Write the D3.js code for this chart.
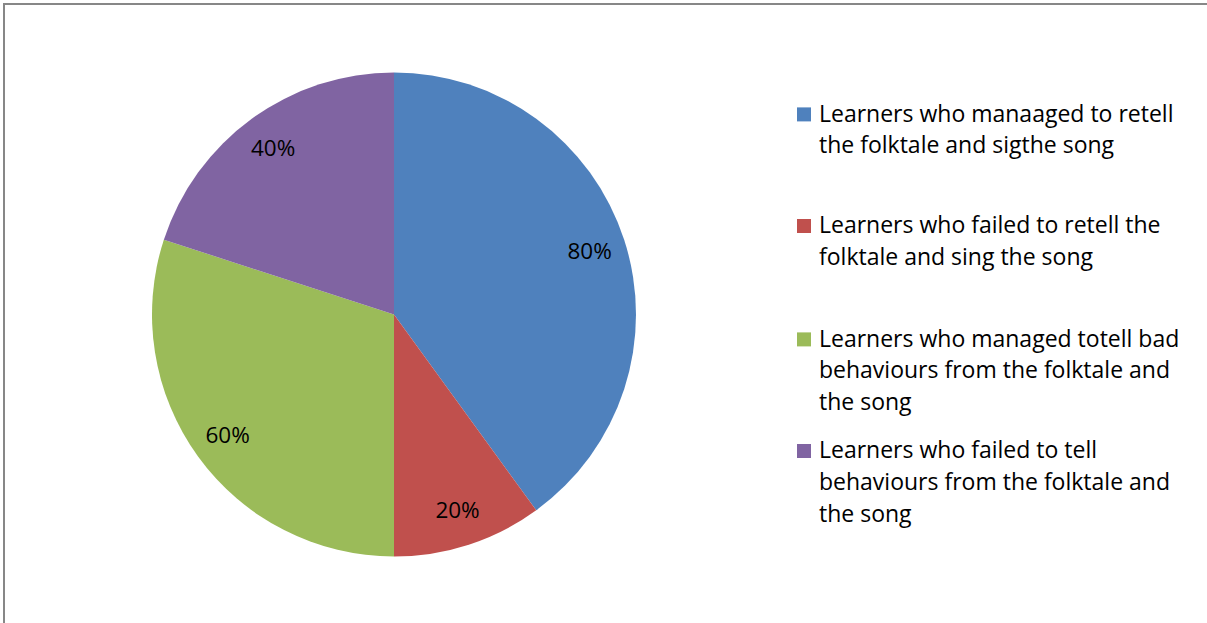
<!DOCTYPE html>
<html>
<head>
<meta charset="utf-8">
<script src="https://cdn.jsdelivr.net/npm/d3@7"></script>
<style>
  html, body { margin: 0; padding: 0; background: #fff; }
  svg { display: block; }
</style>
</head>
<body>
<svg id="chart" width="1207" height="623"></svg>
<script>
// Survey outcomes shown as slices of one pie
const categories = [
  "Learners who manaaged to retell the folktale and sigthe song",
  "Learners who failed to retell the folktale and sing the song",
  "Learners who managed totell bad behaviours from the folktale and the song",
  "Learners who failed to tell behaviours from the folktale and the song"
];
const values = [80, 20, 60, 40];
const valueLabels = ["80%", "20%", "60%", "40%"];
// Legend text broken into the lines it wraps to
const legendLines = [
  ["Learners who manaaged to retell", "the folktale and sigthe song"],
  ["Learners who failed to retell the", "folktale and sing the song"],
  ["Learners who managed totell bad", "behaviours from the folktale and", "the song"],
  ["Learners who failed to tell", "behaviours from the folktale and", "the song"]
];
const colors = ["#4F81BD", "#C0504D", "#9BBB59", "#8064A2"];

const svg = d3.select("#chart");
const font = "'Open Sans', sans-serif";

// Chart frame
svg.append("rect")
  .attr("x", 4).attr("y", 4)
  .attr("width", 1220).attr("height", 640)
  .attr("fill", "#fff")
  .attr("stroke", "#878787").attr("stroke-width", 2);

const cx = 394, cy = 314.5, r = 242;

const pie = d3.pie().sort(null).value(d => d)(values);
const arc = d3.arc().innerRadius(0).outerRadius(r);
const labelArc = d3.arc().innerRadius(r * 0.85).outerRadius(r * 0.85);

const g = svg.append("g").attr("transform", `translate(${cx},${cy})`);

g.selectAll("path.slice")
  .data(pie)
  .join("path")
  .attr("class", "slice")
  .attr("d", arc)
  .attr("fill", (d, i) => colors[i]);

g.selectAll("text.pct")
  .data(pie)
  .join("text")
  .attr("class", "pct")
  .attr("transform", d => {
    const [x, y] = labelArc.centroid(d);
    return `translate(${x},${y + 8})`;
  })
  .attr("text-anchor", "middle")
  .attr("font-family", font)
  .attr("font-size", 22.5)
  .attr("fill", "#000")
  .text((d, i) => valueLabels[i]);

// Legend
const legendX = 797, legendBase = [121.7, 233.3, 346.7, 458.3], lineH = 31.7;
const legend = svg.append("g");
categories.forEach((c, i) => {
  const item = legend.append("g");
  item.append("rect")
    .attr("x", legendX).attr("y", legendBase[i] - 14.3)
    .attr("width", 14).attr("height", 14)
    .attr("fill", colors[i]);
  const t = item.append("text")
    .attr("font-family", font)
    .attr("font-size", 23)
    .attr("fill", "#000");
  legendLines[i].forEach((line, j) => {
    t.append("tspan")
      .attr("x", legendX + 22)
      .attr("y", legendBase[i] + j * lineH)
      .text(line);
  });
});
</script>
</body>
</html>
